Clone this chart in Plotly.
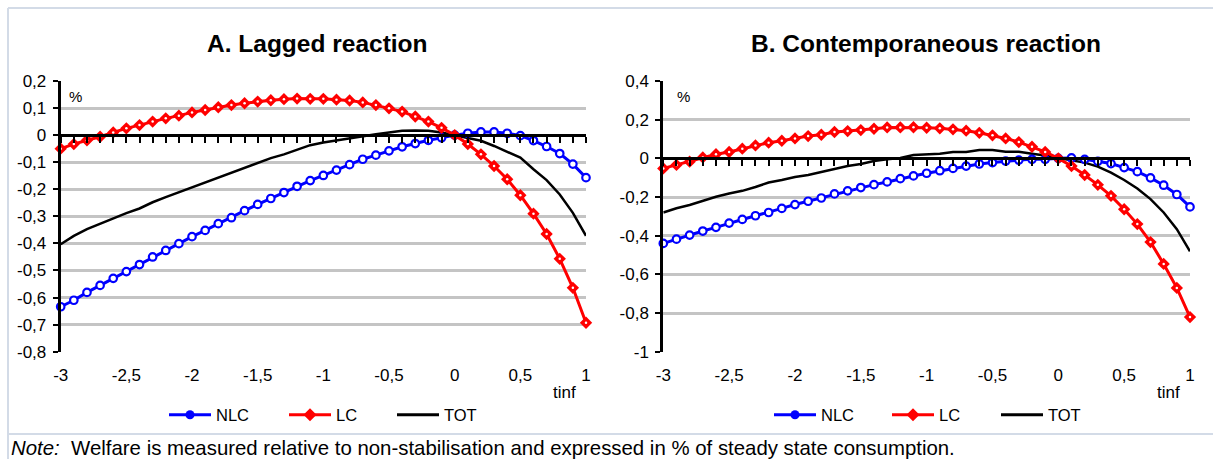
import plotly.graph_objects as go

# ---------------- data ----------------
tinf = [-3.0, -2.9, -2.8, -2.7, -2.6, -2.5, -2.4, -2.3, -2.2, -2.1,
        -2.0, -1.9, -1.8, -1.7, -1.6, -1.5, -1.4, -1.3, -1.2, -1.1,
        -1.0, -0.9, -0.8, -0.7, -0.6, -0.5, -0.4, -0.3, -0.2, -0.1,
        0.0, 0.1, 0.2, 0.3, 0.4, 0.5, 0.6, 0.7, 0.8, 0.9, 1.0]

a_nlc = [-0.634, -0.610, -0.581, -0.555, -0.529, -0.504, -0.478, -0.450, -0.426, -0.401,
         -0.375, -0.352, -0.327, -0.305, -0.279, -0.256, -0.234, -0.212, -0.189, -0.168,
         -0.149, -0.129, -0.109, -0.089, -0.074, -0.058, -0.043, -0.031, -0.019, -0.010,
         0.000, 0.007, 0.012, 0.012, 0.007, -0.002, -0.020, -0.042, -0.068, -0.107, -0.157]
a_lc = [-0.050, -0.033, -0.019, -0.006, 0.010, 0.025, 0.037, 0.050, 0.062, 0.072,
        0.084, 0.093, 0.103, 0.111, 0.118, 0.124, 0.129, 0.133, 0.135, 0.134,
        0.134, 0.131, 0.128, 0.121, 0.111, 0.099, 0.087, 0.069, 0.050, 0.027,
        0.000, -0.033, -0.071, -0.114, -0.163, -0.222, -0.290, -0.365, -0.457, -0.564, -0.693]
a_tot = [-0.403, -0.372, -0.347, -0.327, -0.310, -0.288, -0.271, -0.248, -0.229, -0.211,
         -0.192, -0.175, -0.157, -0.139, -0.120, -0.103, -0.085, -0.071, -0.055, -0.037,
         -0.027, -0.019, -0.012, -0.005, 0.003, 0.010, 0.016, 0.017, 0.016, 0.010,
         0.000, -0.010, -0.021, -0.040, -0.062, -0.083, -0.126, -0.166, -0.219, -0.287, -0.372]

b_nlc = [-0.440, -0.418, -0.397, -0.376, -0.357, -0.335, -0.316, -0.297, -0.280, -0.259,
         -0.239, -0.222, -0.205, -0.184, -0.168, -0.151, -0.136, -0.122, -0.105, -0.091,
         -0.077, -0.064, -0.052, -0.040, -0.029, -0.022, -0.014, -0.009, -0.005, -0.005,
         0.000, 0.002, -0.005, -0.015, -0.027, -0.048, -0.069, -0.101, -0.139, -0.187, -0.251]
b_lc = [-0.052, -0.034, -0.017, 0.005, 0.021, 0.033, 0.050, 0.067, 0.081, 0.091,
        0.103, 0.115, 0.122, 0.136, 0.141, 0.146, 0.153, 0.160, 0.160, 0.161,
        0.158, 0.155, 0.150, 0.143, 0.132, 0.119, 0.103, 0.084, 0.060, 0.033,
        0.000, -0.040, -0.086, -0.137, -0.194, -0.263, -0.340, -0.433, -0.546, -0.670, -0.821]
b_tot = [-0.280, -0.258, -0.241, -0.218, -0.199, -0.182, -0.168, -0.148, -0.125, -0.112,
         -0.096, -0.086, -0.071, -0.053, -0.040, -0.029, -0.014, -0.005, 0.002, 0.017,
         0.019, 0.024, 0.033, 0.033, 0.043, 0.043, 0.034, 0.034, 0.024, 0.015,
         0.002, -0.010, -0.022, -0.043, -0.074, -0.112, -0.156, -0.211, -0.280, -0.366, -0.481]

x_tickvals = [-3, -2.5, -2, -1.5, -1, -0.5, 0, 0.5, 1]
x_ticktext = ["-3", "-2,5", "-2", "-1,5", "-1", "-0,5", "0", "0,5", "1"]
a_tickvals = [-0.8, -0.7, -0.6, -0.5, -0.4, -0.3, -0.2, -0.1, 0, 0.1, 0.2]
a_ticktext = ["-0,8", "-0,7", "-0,6", "-0,5", "-0,4", "-0,3", "-0,2", "-0,1", "0", "0,1", "0,2"]
b_tickvals = [-1, -0.8, -0.6, -0.4, -0.2, 0, 0.2, 0.4]
b_ticktext = ["-1", "-0,8", "-0,6", "-0,4", "-0,2", "0", "0,2", "0,4"]
minor_ticks = tinf

series_names = ["NLC", "LC", "TOT"]
titles = ["A. Lagged reaction", "B. Contemporaneous reaction"]
note_text = "<i>Note:</i>  Welfare is measured relative to non-stabilisation and expressed in % of steady state consumption."

# ---------------- layout geometry ----------------
W, H = 1213, 459
FONT = "Liberation Sans, Arial, sans-serif"
BLUE, RED, BLACK = "#0000FF", "#FF0000", "#000000"
GRID = "#C4C4C4"
FRAME = "#D3DBE7"

def fx(p):
    return p / W

def fy(p):
    return 1 - p / H

ydom = [fy(351.7), fy(81)]
xdomA = [fx(60.7), fx(586)]
xdomB = [fx(663.3), fx(1190)]
rangeA = [-0.8, 0.2]
rangeB = [-1.0, 0.4]

def zero_pos(rng):
    return ydom[0] + (0 - rng[0]) / (rng[1] - rng[0]) * (ydom[1] - ydom[0])

fig = go.Figure()

def add_panel(xa, ya, nlc, lc, tot):
    fig.add_trace(go.Scatter(x=tinf, y=tot, mode="lines", xaxis=xa, yaxis=ya,
                             line=dict(color=BLACK, width=2.5), showlegend=False,
                             cliponaxis=False, hoverinfo="skip"))
    fig.add_trace(go.Scatter(x=tinf, y=nlc, mode="lines+markers", xaxis=xa, yaxis=ya,
                             line=dict(color=BLUE, width=3),
                             marker=dict(symbol="circle", size=7.5, color="white",
                                         line=dict(color=BLUE, width=2.2)),
                             showlegend=False, cliponaxis=False))
    fig.add_trace(go.Scatter(x=tinf, y=lc, mode="lines+markers", xaxis=xa, yaxis=ya,
                             line=dict(color=RED, width=3),
                             marker=dict(symbol="diamond", size=9.5, color=RED,
                                         line=dict(width=0)),
                             showlegend=False, cliponaxis=False))
    fig.add_trace(go.Scatter(x=tinf, y=lc, mode="markers", xaxis=xa, yaxis=ya,
                             marker=dict(symbol="circle", size=2.5, color="white",
                                         line=dict(width=0)),
                             showlegend=False, cliponaxis=False, hoverinfo="skip"))

add_panel("x", "y", a_nlc, a_lc, a_tot)
add_panel("x2", "y2", b_nlc, b_lc, b_tot)
# invisible traces so the zero-line axes exist
fig.add_trace(go.Scatter(x=[None], y=[None], xaxis="x3", yaxis="y", showlegend=False))
fig.add_trace(go.Scatter(x=[None], y=[None], xaxis="x4", yaxis="y2", showlegend=False))

# legend entries (one legend per entry so each can be placed like the original)
legend_specs = [
    ("legend", "NLC", BLUE, "circle", 9, 170),
    ("legend2", "LC", RED, "diamond", 10, 290),
    ("legend3", "TOT", BLACK, None, 0, 398),
    ("legend4", "NLC", BLUE, "circle", 9, 775),
    ("legend5", "LC", RED, "diamond", 10, 893),
    ("legend6", "TOT", BLACK, None, 0, 1002),
]
for lg, name, col, sym, sz, xpos in legend_specs:
    if sym:
        fig.add_trace(go.Scatter(x=[None], y=[None], name=name, mode="lines+markers",
                                 line=dict(color=col, width=3),
                                 marker=dict(symbol=sym, size=sz, color=col),
                                 legend=lg, showlegend=True))
    else:
        fig.add_trace(go.Scatter(x=[None], y=[None], name=name, mode="lines",
                                 line=dict(color=col, width=3), legend=lg, showlegend=True))

tickfont = dict(family=FONT, size=17, color=BLACK)

def yaxis_cfg(rng, tv, tt):
    return dict(domain=ydom, range=rng, tickvals=tv, ticktext=tt, showline=True,
                linecolor=BLACK, linewidth=3, ticks="outside", ticklen=5, tickwidth=2,
                tickcolor=BLACK, showgrid=True, gridcolor=GRID, gridwidth=3,
                griddash="solid", zeroline=False, tickfont=tickfont,
                fixedrange=True, ticklabelstandoff=3, automargin=False)

def xaxis_cfg(dom, anchor):
    return dict(domain=dom, range=[-3, 1], anchor=anchor, tickvals=x_tickvals,
                ticktext=x_ticktext, showline=False, ticks="", showgrid=False,
                zeroline=False, tickfont=tickfont, ticklabelstandoff=11, fixedrange=True,
                automargin=False)

def zero_axis_cfg(dom, over, rng):
    return dict(domain=dom, range=[-3, 1], overlaying=over, anchor="free",
                position=zero_pos(rng), side="bottom", showline=True, linecolor=BLACK,
                linewidth=3, ticks="outside", ticklen=6, tickwidth=2, tickcolor=BLACK,
                tickvals=minor_ticks, showticklabels=False, showgrid=False,
                zeroline=False, fixedrange=True, automargin=False)

legend_layouts = {}
for lg, name, col, sym, sz, xpos in legend_specs:
    legend_layouts[lg] = dict(x=fx(xpos - 6), xanchor="left", y=fy(415), yanchor="middle",
                              orientation="h", bgcolor="rgba(0,0,0,0)", borderwidth=0,
                              itemwidth=42, font=dict(family=FONT, size=16.5, color=BLACK),
                              itemclick=False, itemdoubleclick=False)

annotations = [
    dict(text="<b>%s</b>" % titles[0], x=fx(317.5), y=fy(43), xref="paper", yref="paper",
         showarrow=False, xanchor="center", yanchor="middle",
         font=dict(family=FONT, size=24.5, color=BLACK)),
    dict(text="<b>%s</b>" % titles[1], x=fx(926), y=fy(43), xref="paper", yref="paper",
         showarrow=False, xanchor="center", yanchor="middle",
         font=dict(family=FONT, size=24.5, color=BLACK)),
    dict(text="%", x=fx(75), y=fy(96), xref="paper", yref="paper", showarrow=False,
         xanchor="center", yanchor="middle", font=dict(family=FONT, size=15, color=BLACK)),
    dict(text="%", x=fx(683), y=fy(96), xref="paper", yref="paper", showarrow=False,
         xanchor="center", yanchor="middle", font=dict(family=FONT, size=15, color=BLACK)),
    dict(text="tinf", x=fx(564), y=fy(392), xref="paper", yref="paper", showarrow=False,
         xanchor="center", yanchor="middle", font=dict(family=FONT, size=17, color=BLACK)),
    dict(text="tinf", x=fx(1168), y=fy(392), xref="paper", yref="paper", showarrow=False,
         xanchor="center", yanchor="middle", font=dict(family=FONT, size=17, color=BLACK)),
    dict(text=note_text, x=fx(9), y=fy(448), xref="paper", yref="paper", showarrow=False,
         xanchor="left", yanchor="middle", font=dict(family=FONT, size=20.4, color=BLACK)),
]

shapes = [
    dict(type="line", xref="paper", yref="paper", x0=fx(8), x1=1, y0=fy(8), y1=fy(8),
         line=dict(color=FRAME, width=2)),
    dict(type="line", xref="paper", yref="paper", x0=fx(8), x1=fx(8), y0=fy(8), y1=0,
         line=dict(color=FRAME, width=2)),
    dict(type="line", xref="paper", yref="paper", x0=fx(8), x1=1, y0=fy(434), y1=fy(434),
         line=dict(color=FRAME, width=2)),
]

fig.update_layout(
    template="none",
    width=W, height=H, margin=dict(l=0, r=0, t=0, b=0, pad=0, autoexpand=False),
    paper_bgcolor="white", plot_bgcolor="white",
    font=dict(family=FONT, color=BLACK),
    xaxis=xaxis_cfg(xdomA, "y"),
    yaxis=dict(anchor="x", **yaxis_cfg(rangeA, a_tickvals, a_ticktext)),
    xaxis2=xaxis_cfg(xdomB, "y2"),
    yaxis2=dict(anchor="x2", **yaxis_cfg(rangeB, b_tickvals, b_ticktext)),
    xaxis3=zero_axis_cfg(xdomA, "x", rangeA),
    xaxis4=zero_axis_cfg(xdomB, "x2", rangeB),
    annotations=annotations, shapes=shapes, hovermode=False,
    **legend_layouts,
)

fig.write_html("out.html", config={"displayModeBar": False})
